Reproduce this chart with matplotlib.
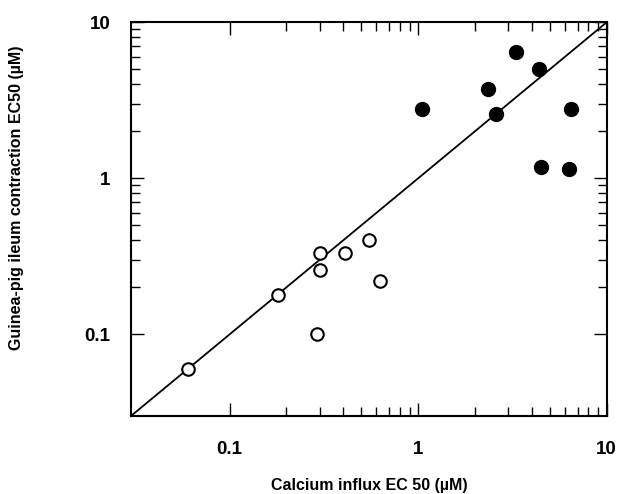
import numpy as np
import matplotlib.pyplot as plt
from matplotlib.ticker import FixedLocator, NullFormatter

plt.rcParams['font.family'] = ['Liberation Sans', 'DejaVu Sans']

# open circles
open_x = [0.06, 0.18, 0.30, 0.30, 0.41, 0.55, 0.63, 0.29]
open_y = [0.06, 0.18, 0.33, 0.26, 0.33, 0.40, 0.22, 0.10]

# filled circles
filled_x = [1.05, 2.35, 2.6, 3.3, 4.4, 6.5, 4.5, 6.3]
filled_y = [2.8, 3.75, 2.6, 6.4, 5.0, 2.8, 1.18, 1.15]

lims = [0.03, 10]
major = [0.1, 1, 10]
minor = [m * d for d in (0.1, 1) for m in range(2, 10)]

fig = plt.figure(figsize=(6.21, 4.94), dpi=100)
ax = fig.add_axes([0.211, 0.158, 0.766, 0.797])

# identity line
ax.plot(lims, lims, color='black', linewidth=1.3, zorder=1)
ax.plot(open_x, open_y, 'o', markersize=9, markerfacecolor='white',
        markeredgecolor='black', markeredgewidth=1.5, linestyle='none', zorder=2)
ax.plot(filled_x, filled_y, 'o', markersize=10, color='black', linestyle='none', zorder=2)

ax.set_xscale('log')
ax.set_yscale('log')
ax.set_xlim(lims)
ax.set_ylim(lims)

for axis in (ax.xaxis, ax.yaxis):
    axis.set_major_locator(FixedLocator(major))
    axis.set_minor_locator(FixedLocator(minor))
    axis.set_minor_formatter(NullFormatter())
ax.set_xticklabels(['0.1', '1', '10'])
ax.set_yticklabels(['0.1', '1', '10'])

ax.tick_params(which='both', direction='in', top=True, right=True, width=1)
ax.tick_params(which='major', length=9.5, labelsize=13.5)
ax.tick_params(axis='x', which='major', pad=18)
ax.tick_params(axis='y', which='major', pad=15)
ax.tick_params(which='minor', length=6.5)
for lab in ax.get_xticklabels() + ax.get_yticklabels():
    lab.set_fontweight('bold')

for s in ax.spines.values():
    s.set_linewidth(1.5)

ax.set_xlabel('Calcium influx EC 50 (µM)', fontsize=11.5, fontweight='bold')
ax.xaxis.set_label_coords(0.5, -0.158)
ax.set_ylabel('Guinea-pig ileum contraction EC50 (µM)', fontsize=11.5, fontweight='bold')
ax.yaxis.set_label_coords(-0.225, 0.555)

fig.savefig('out.png', dpi=100)
